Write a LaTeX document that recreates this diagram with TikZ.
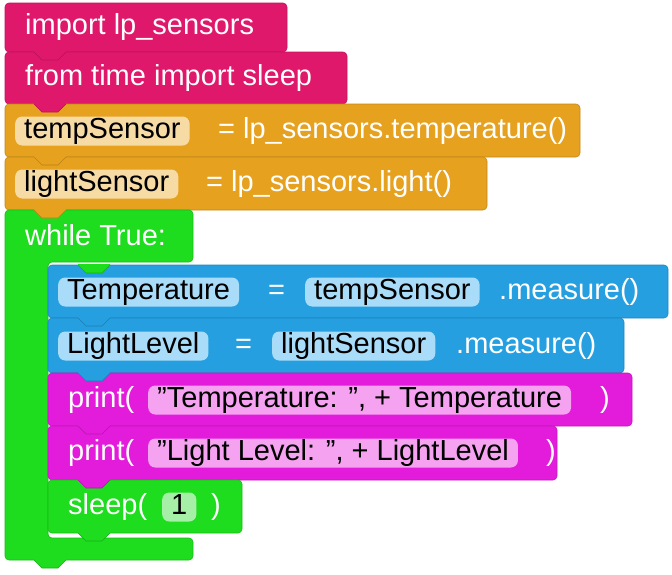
\documentclass[tikz,border=0pt]{standalone}
\usepackage{fontspec}
\setmainfont{Liberation Sans}
\definecolor{cimp}{HTML}{E0186C}
\definecolor{cvar}{HTML}{E6A11F}
\definecolor{cloop}{HTML}{1EDC1E}
\definecolor{cset}{HTML}{259FE0}
\definecolor{cprint}{HTML}{E31BDB}
\definecolor{pvar}{HTML}{F7DBA5}
\definecolor{pset}{HTML}{A8DCF8}
\definecolor{pprint}{HTML}{F5A3F0}
\definecolor{ploop}{HTML}{A6EFA6}
\begin{document}
\begin{tikzpicture}[x=1pt,y=-1pt,
  txt/.style={anchor=west,inner sep=0pt,text height=21pt,text depth=6pt,font=\fontsize{29}{30}\selectfont},
  wt/.style={txt,text=white},
  pill/.style={txt,text=black,fill=#1,rounded corners=7pt,inner xsep=9pt,minimum height=29pt},
  blockbox/.style={fill=#1,rounded corners=4pt,draw=#1!85!black,line width=0.6pt}]
\useasboundingbox (0,0) rectangle (672,574);
\newcommand{\tabat}[3]{\fill[#3] (#1,#2-1) -- (#1,#2) -- (#1+8,#2+8) -- (#1+24,#2+8) -- (#1+32,#2) -- (#1+32,#2-1) -- cycle;
  \draw[#3!80!black,line width=0.6pt] (#1,#2) -- (#1+8,#2+8) -- (#1+24,#2+8) -- (#1+32,#2);}
% blocks
\path[blockbox=cimp] (5,3) rectangle (287,52);
\path[blockbox=cimp] (5,52) rectangle (347,104);
\path[blockbox=cvar] (5,104) rectangle (580,157);
\path[blockbox=cvar] (5,157) rectangle (487,210);
\path[blockbox=cloop] (5,210) -- (193,210) -- (193,262) -- (48,262) -- (48,538) -- (193,538) -- (193,560) -- (5,560) -- cycle;
\path[blockbox=cset] (48,265) rectangle (668,318);
\path[blockbox=cset] (48,318) rectangle (624,373);
\path[blockbox=cprint] (48,373) rectangle (632,426);
\path[blockbox=cprint] (48,426) rectangle (557,480);
\path[blockbox=cloop] (48,480) rectangle (242,533);
% tabs
\tabat{34}{52}{cimp}
\tabat{34}{104}{cimp}
\tabat{34}{157}{cvar}
\tabat{34}{210}{cvar}
\tabat{78}{265}{cloop}
\tabat{78}{318}{cset}
\tabat{78}{373}{cset}
\tabat{78}{426}{cprint}
\tabat{78}{480}{cprint}
\tabat{78}{533}{cloop}
\tabat{34}{560}{cloop}
% texts
\node[wt] (t1) at (25,27) {import lp\_sensors};
\node[wt] (t2) at (25,78) {from time import sleep};
\node[pill=pvar] (p3) at (15,131) {tempSensor};
\node[wt] (t3) at (218,131) {= lp\_sensors.temperature()};
\node[pill=pvar] (p4) at (15,184) {lightSensor};
\node[wt] (t4) at (206,184) {= lp\_sensors.light()};
\node[wt] (t5) at (25,238) {while True:};
\node[pill=pset] (p6a) at (58,292) {Temperature};
\node[wt] (e6) at (268,292) {=};
\node[pill=pset] (p6b) at (305,292) {tempSensor};
\node[wt] (t6) at (499,292) {.measure()};
\node[pill=pset] (p7a) at (58,346) {LightLevel};
\node[wt] (e7) at (235,346) {=};
\node[pill=pset] (p7b) at (272,346) {lightSensor};
\node[wt] (t7) at (456,346) {.measure()};
\node[wt] (t8) at (68,400) {print(};
\node[pill=pprint] (p8) at (148,400) {"Temperature: ", + Temperature};
\node[wt] (c8) at (600,400) {)};
\node[wt] (t9) at (68,453) {print(};
\node[pill=pprint] (p9) at (148,453) {"Light Level: ", + LightLevel};
\node[wt] (c9) at (546,453) {)};
\node[wt] (t10) at (68,507) {sleep(};
\node[pill=ploop] (p10) at (162,507) {1};
\node[wt] (c10) at (211,507) {)};
\end{tikzpicture}
\end{document}
